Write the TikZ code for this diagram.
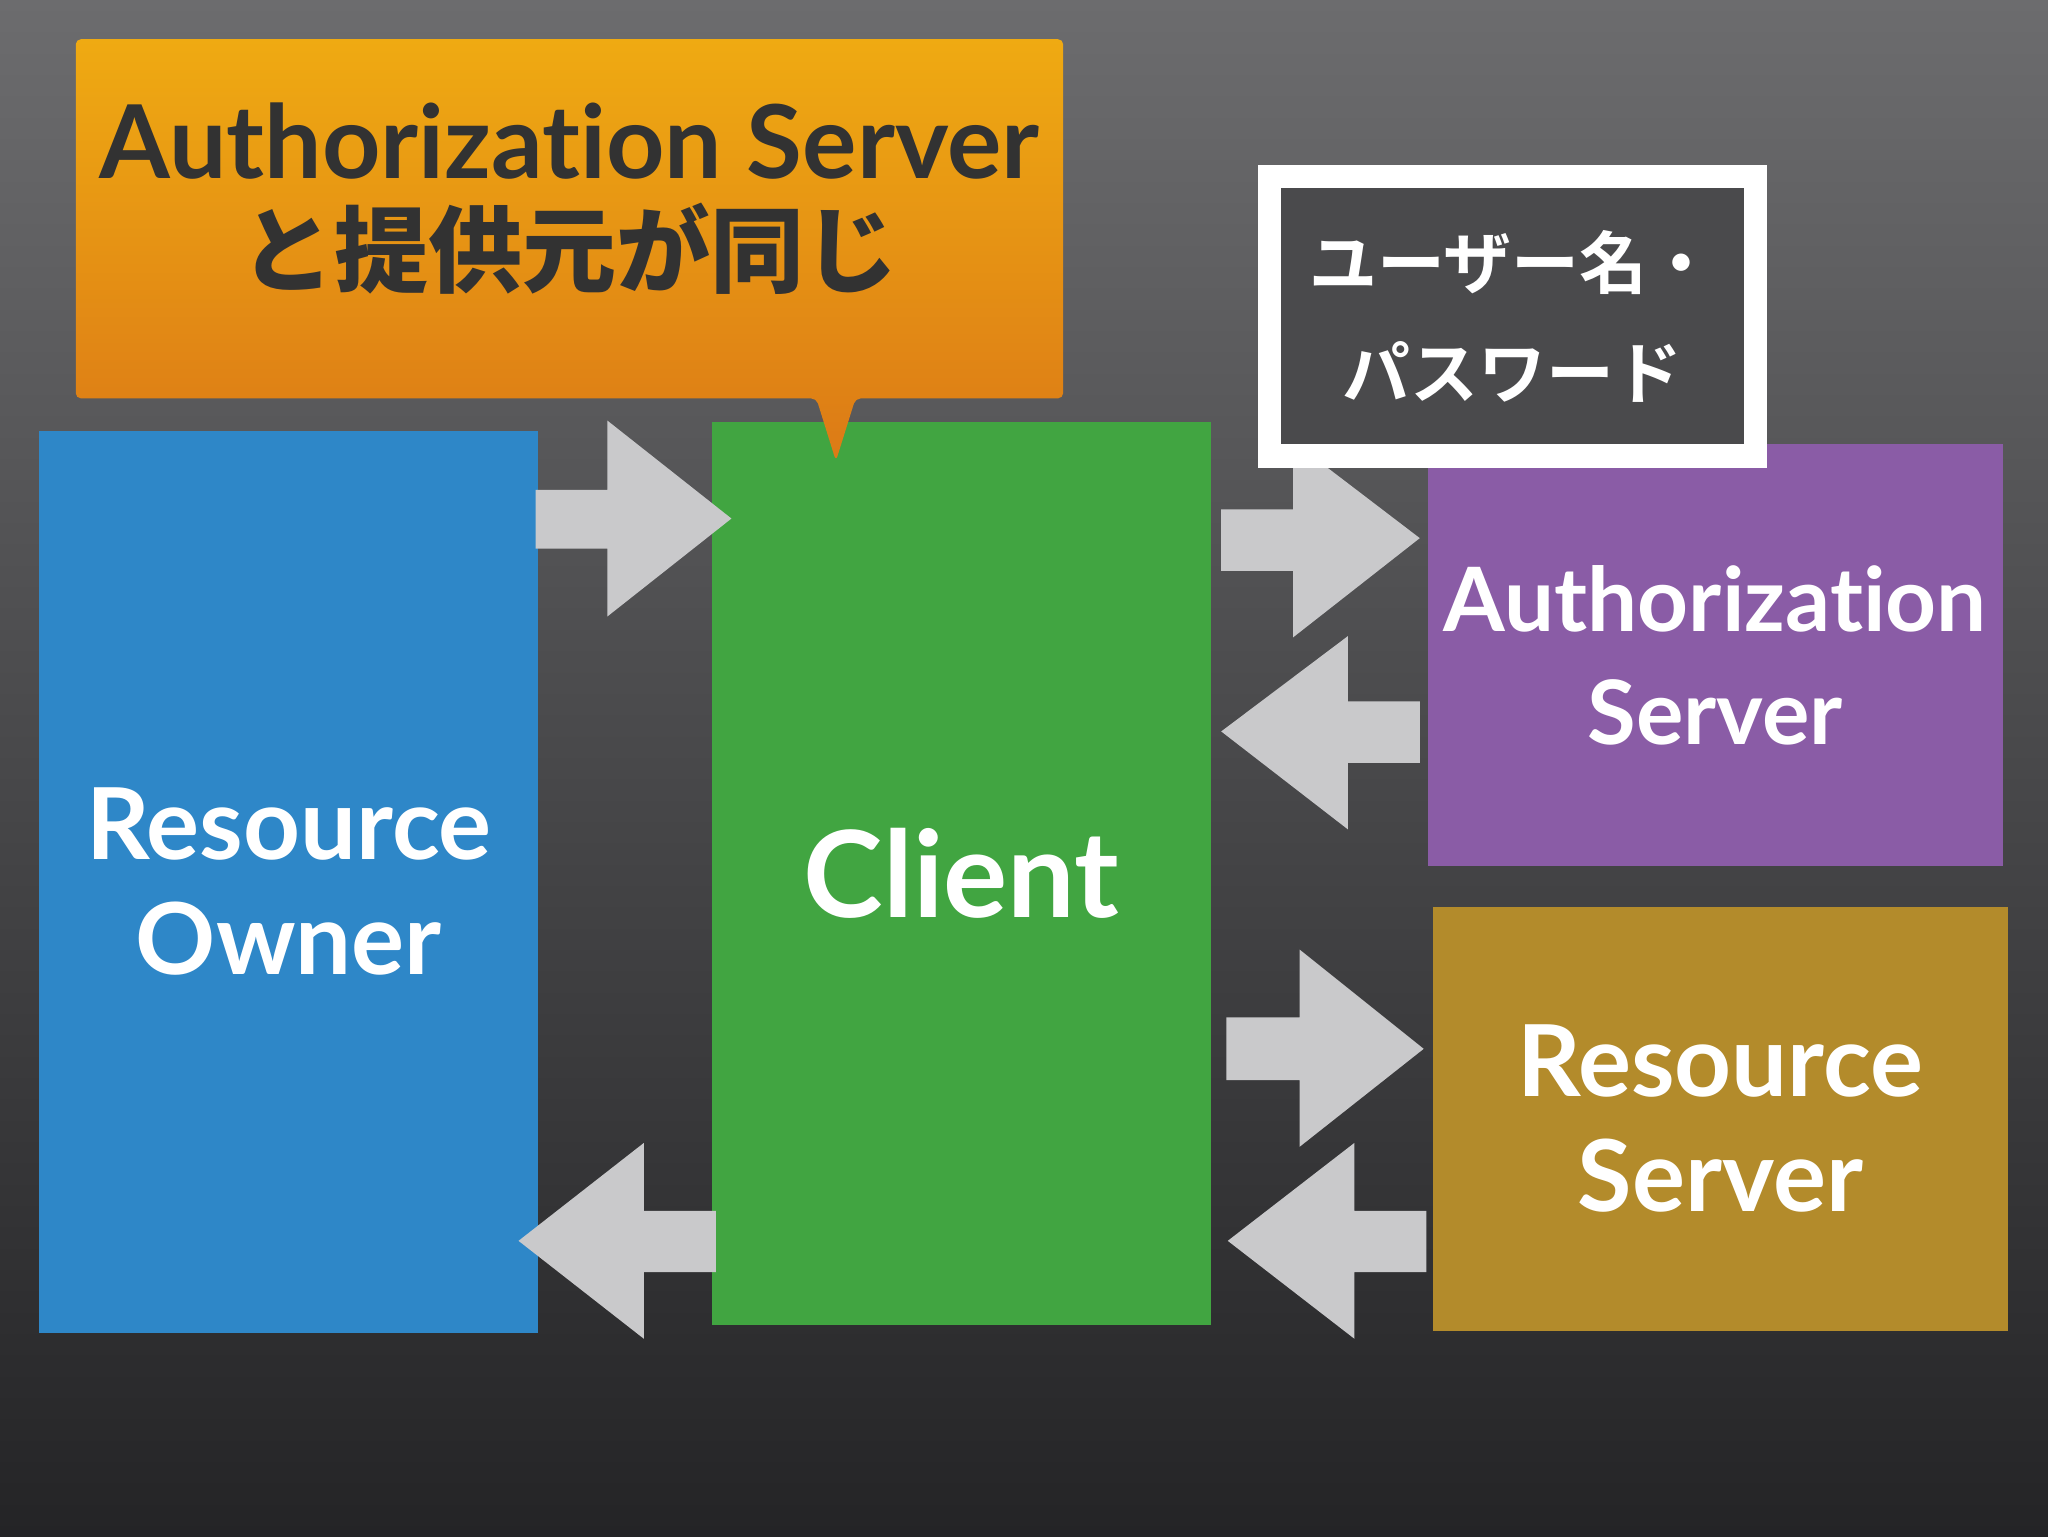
\documentclass[tikz,border=0pt]{standalone}
\usepackage{fontspec}
\setmainfont{Lato}[Ligatures={NoCommon}]
\newfontfamily\jp{Noto Sans CJK JP Bold}
\usetikzlibrary{shadows}
\definecolor{ro}{HTML}{2E87C8}
\definecolor{cl}{HTML}{41A541}
\definecolor{as}{HTML}{8A5CA6}
\definecolor{rs}{HTML}{B38B2B}
\definecolor{arr}{HTML}{C9C9CB}
\tikzset{
 box/.style={draw=none,anchor=north west,inner sep=0pt,align=center},
 wtxt/.style={text=white,font=\bfseries},
 blockarr/.style={fill=arr,draw=none},
}
\begin{document}
\begin{tikzpicture}[x=1pt,y=-1pt]
\shade[top color={rgb,255:red,108;green,108;blue,110},bottom color={rgb,255:red,36;green,36;blue,38}] (0,0) rectangle (1568,1176);
\useasboundingbox (0,0) rectangle (1568,1176);
% boxes
\node[box,fill=ro,minimum width=382pt,minimum height=690pt] (owner) at (30,330) {};
\node[wtxt,font=\bfseries\fontsize{76}{88}\selectfont,align=center] at (owner.center) {Resource\\Owner};
\node[box,fill=cl,minimum width=382pt,minimum height=691pt] (client) at (545,323) {};
\node[wtxt,font=\bfseries\fontsize{92}{100}\selectfont] at (client.center) {Client};
\node[box,fill=as,minimum width=440pt,minimum height=323pt] (auth) at (1093,340) {};
\node[wtxt,font=\bfseries\fontsize{68}{86}\selectfont,align=center] at (auth.center) {Authorization\\Server};
\node[box,fill=rs,minimum width=440pt,minimum height=325pt] (rsrv) at (1097,694) {};
\node[wtxt,font=\bfseries\fontsize{76}{88}\selectfont,align=center] at (rsrv.center) {Resource\\Server};
% arrows
\fill[blockarr] (410,375) -- (465,375) -- (465,322) -- (560,397) -- (465,472) -- (465,420) -- (410,420) -- cycle;
\fill[blockarr] (935,390) -- (990,390) -- (990,338) -- (1087,412) -- (990,488) -- (990,437) -- (935,437) -- cycle;
\fill[blockarr] (1087,537) -- (1032,537) -- (1032,487) -- (935,560) -- (1032,635) -- (1032,584) -- (1087,584) -- cycle;
\fill[blockarr] (939,779) -- (995,779) -- (995,727) -- (1090,803) -- (995,878) -- (995,827) -- (939,827) -- cycle;
\fill[blockarr] (1092,927) -- (1037,927) -- (1037,875) -- (940,950) -- (1037,1025) -- (1037,974) -- (1092,974) -- cycle;
\fill[blockarr] (548,927) -- (493,927) -- (493,875) -- (397,950) -- (493,1025) -- (493,974) -- (548,974) -- cycle;
% callout
\shade[top color={rgb,255:red,239;green,170;blue,18},bottom color={rgb,255:red,220;green,122;blue,22},rounded corners=4pt]
 (58,30) -- (814,30) -- (814,305) -- (655,305) -- (640,353) -- (625,305) -- (58,305) -- cycle;
\node[text={rgb,255:red,50;green,50;blue,50},align=center,font=\bfseries\fontsize{78}{82}\selectfont] (note) at (436,152) {Authorization Server\\{\jp\fontsize{72}{82}\selectfont と提供元が同じ}};
% user/password box
\node[anchor=north west,draw=white,line width=18pt,fill={rgb,255:red,74;green,74;blue,76},minimum width=372pt,minimum height=214pt,inner sep=0pt] (up) at (963,126) {};
\node[text=white,align=center,font=\jp\fontsize{52}{84}\selectfont] at (up.center) {ユーザー名・\\パスワード};
\end{tikzpicture}
\end{document}
